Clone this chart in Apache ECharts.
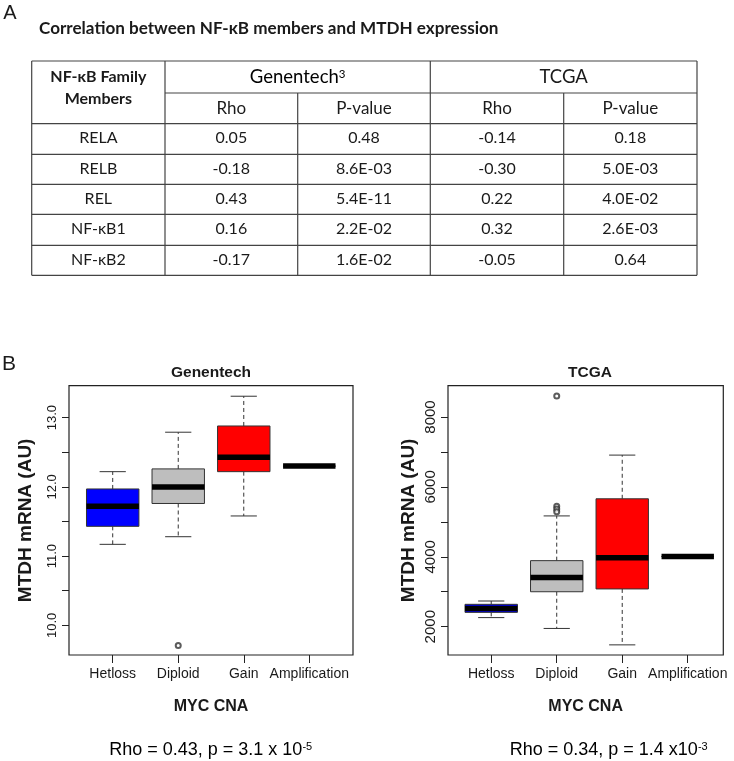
<!DOCTYPE html>
<html><head><meta charset="utf-8">
<script src="https://cdn.jsdelivr.net/npm/echarts@6/dist/echarts.min.js"></script>
<style>html,body{margin:0;padding:0;background:#fff}#c{width:734px;height:761px}</style>
</head><body><div id="c"></div>
<script>
// ---------------- data ----------------
const categories = ['Hetloss', 'Diploid', 'Gain', 'Amplification'];

const genMin    = [11.17, 11.28, 11.58, 12.30];
const genQ1     = [11.43, 11.76, 12.22, 12.30];
const genMedian = [11.72, 12.00, 12.43, 12.30];
const genQ3     = [11.97, 12.26, 12.88, 12.30];
const genMax    = [12.22, 12.79, 13.31, 12.30];
const genOutliers = [[2, 9.71]];

const tcgaMin    = [2260, 1950, 1480, 4010];
const tcgaQ1     = [2410, 3000, 3080, 4010];
const tcgaMedian = [2520, 3410, 3970, 4010];
const tcgaQ3     = [2640, 3890, 5660, 4010];
const tcgaMax    = [2735, 5170, 6910, 4010];
const tcgaOutliers = [[2, 8600], [2, 5450], [2, 5370], [2, 5290]];

const genYTicks  = [10, 10.5, 11, 11.5, 12, 12.5, 13];
const genYLabels = [10, 11, 12, 13];
const tcgaYTicks  = [2000, 3000, 4000, 5000, 6000, 7000, 8000];
const tcgaYLabels = [2000, 4000, 6000, 8000];
const xTickValues = [1, 2, 3, 4];

const tableTitle = 'Correlation between NF-κB members and MTDH expression';
const members = ['RELA', 'RELB', 'REL', 'NF-κB1', 'NF-κB2'];
const genRho  = ['0.05', '-0.18', '0.43', '0.16', '-0.17'];
const genP    = ['0.48', '8.6E-03', '5.4E-11', '2.2E-02', '1.6E-02'];
const tcgaRho = ['-0.14', '-0.30', '0.22', '0.32', '-0.05'];
const tcgaP   = ['0.18', '5.0E-03', '4.0E-02', '2.6E-03', '0.64'];

const genStatText  = ['Rho = 0.43, p = 3.1 x 10', '-5'];
const tcgaStatText = ['Rho = 0.34, p = 1.4 x10', '-3'];

// ---------------- styling helpers ----------------
const cv = document.createElement('canvas').getContext('2d');
function tw(t, f) { cv.font = f; return cv.measureText(t).width; }
const narrowOK = Math.abs(tw('Hetloss Amplification', '17px "Liberation Sans Narrow", monospace') -
                          tw('Hetloss Amplification', '17px monospace')) > 1;
const xLabFamily = narrowOK ? 'Liberation Sans Narrow' : 'Liberation Sans';
const xLabSize = narrowOK ? 17 : 14;
const SANS = 'Liberation Sans';
const TFONT = 'Lato';
const INK = '#1a1a1a';

const boxColors = ['#0000FF', '#BEBEBE', '#FF0000', '#000000'];
const BOX_W = 0.8;

function boxRender(params, api) {
  const x = api.value(0);
  const vals = [1, 2, 3, 4, 5].map(d => api.coord([x, api.value(d)])[1]);
  const [yMin, yQ1, yMed, yQ3, yMax] = vals;
  const cx = api.coord([x, api.value(3)])[0];
  const half = api.size([BOX_W, 0])[0] / 2;
  const cap = half / 2;
  const dash = { stroke: '#333', lineWidth: 1, lineDash: [4, 3] };
  const solid = { stroke: '#333', lineWidth: 1 };
  return {
    type: 'group',
    children: [
      { type: 'line', shape: { x1: cx, y1: yQ3, x2: cx, y2: yMax }, style: dash },
      { type: 'line', shape: { x1: cx, y1: yQ1, x2: cx, y2: yMin }, style: dash },
      { type: 'line', shape: { x1: cx - cap, y1: yMax, x2: cx + cap, y2: yMax }, style: solid },
      { type: 'line', shape: { x1: cx - cap, y1: yMin, x2: cx + cap, y2: yMin }, style: solid },
      { type: 'rect', shape: { x: cx - half, y: yQ3, width: 2 * half, height: yQ1 - yQ3 },
        style: { fill: boxColors[params.dataIndex], stroke: '#333', lineWidth: 1 } },
      { type: 'line', shape: { x1: cx - half, y1: yMed, x2: cx + half, y2: yMed },
        style: { stroke: '#000', lineWidth: 5.5 } }
    ]
  };
}

function boxData(mn, q1, md, q3, mx) {
  return categories.map((c, i) => [i + 1, mn[i], q1[i], md[i], q3[i], mx[i]]);
}

function xAxisFor(gi, min, max) {
  return {
    gridIndex: gi, type: 'value', min: min, max: max,
    axisLine: { show: false, onZero: false }, splitLine: { show: false },
    axisTick: { show: true, customValues: xTickValues, length: 8, lineStyle: { color: '#222', width: 1 } },
    axisLabel: { customValues: xTickValues, formatter: v => categories[Math.round(v) - 1],
      margin: 12, fontFamily: xLabFamily, fontSize: xLabSize, color: INK },
    name: 'MYC CNA', nameLocation: 'middle', nameGap: 44,
    nameTextStyle: { fontFamily: SANS, fontWeight: 'bold', fontSize: 16, color: INK }
  };
}
function yAxisFor(gi, min, max, ticks, labels, fmt, fs, gap) {
  return {
    gridIndex: gi, type: 'value', min: min, max: max,
    axisLine: { show: false, onZero: false }, splitLine: { show: false },
    axisTick: { show: true, customValues: ticks, length: 7, lineStyle: { color: '#222', width: 1 } },
    axisLabel: { customValues: labels, formatter: fmt, rotate: 90, margin: 10,
      fontFamily: SANS, fontSize: fs, color: INK },
    name: 'MTDH mRNA (AU)', nameLocation: 'middle', nameGap: gap,
    nameTextStyle: { fontFamily: SANS, fontWeight: 'bold', fontSize: 19, color: INK }
  };
}

// ---------------- table (graphic) ----------------
const colX = [31.7, 165, 297.7, 430.3, 563.7, 697];
const rowY = [61, 93, 123.7, 154.3, 184.3, 214.3, 245.3, 275.3];
const lineStyle = { stroke: '#444', lineWidth: 1.2 };
const gfx = [];
function hline(x1, x2, y) { gfx.push({ type: 'line', shape: { x1, y1: y, x2, y2: y }, style: lineStyle }); }
function vline(x, y1, y2) { gfx.push({ type: 'line', shape: { x1: x, y1, x2: x, y2 }, style: lineStyle }); }
function txt(x, y, text, size, weight, family, align, extra) {
  gfx.push(Object.assign({ type: 'text', x, y, z: 10,
    style: { text, fill: INK, fontSize: size, fontWeight: weight || 'normal', fontFamily: family || TFONT,
      textAlign: align || 'center', textVerticalAlign: 'middle' } }, extra || {}));
}
hline(colX[0], colX[5], rowY[0]);
hline(colX[1], colX[5], rowY[1]);
for (let r = 2; r < rowY.length; r++) hline(colX[0], colX[5], rowY[r]);
vline(colX[0], rowY[0], rowY[7]);
vline(colX[1], rowY[0], rowY[7]);
vline(colX[2], rowY[1], rowY[7]);
vline(colX[3], rowY[0], rowY[7]);
vline(colX[4], rowY[1], rowY[7]);
vline(colX[5], rowY[0], rowY[7]);

const colC = [0, 1, 2, 3, 4].map(i => (colX[i] + colX[i + 1]) / 2);
txt(10, 13.7, 'A', 20, 'normal', SANS);
txt(39, 28.3, tableTitle, 17.1, 'bold', TFONT, 'left');
txt(colC[0], 77.3, 'NF-κB Family', 16, 'bold');
txt(colC[0], 99, 'Members', 16, 'bold');
gfx.push({ type: 'text', x: (colX[1] + colX[3]) / 2, y: 77.5, z: 10,
  style: { text: '{a|Genentech}{s|3}', textAlign: 'center', textVerticalAlign: 'middle',
    rich: { a: { fontFamily: TFONT, fontSize: 18.5, lineHeight: 19, color: INK },
            s: { fontFamily: TFONT, fontSize: 11.5, lineHeight: 15, verticalAlign: 'top', color: INK } } } });
txt((colX[3] + colX[5]) / 2, 77.5, 'TCGA', 18.5);
['Rho', 'P-value', 'Rho', 'P-value'].forEach((h, i) => txt(colC[i + 1], 109, h, 17));
const cols = [members, genRho, genP, tcgaRho, tcgaP];
members.forEach((m, r) => {
  const yc = (rowY[r + 2] + rowY[r + 3]) / 2 - 0.7;
  cols.forEach((col, c) => txt(colC[c], yc, col[r], 16));
});

// panel B extra texts
txt(9, 364, 'B', 21, 'normal', SANS);
txt(211, 372.3, 'Genentech', 15.5, 'bold', SANS);
txt(590, 372.3, 'TCGA', 15.5, 'bold', SANS);
function statText(x, y, parts) {
  gfx.push({ type: 'text', x, y, z: 10,
    style: { text: '{a|' + parts[0] + '}{s|' + parts[1] + '}', textAlign: 'center', textVerticalAlign: 'middle',
      rich: { a: { fontFamily: SANS, fontSize: 18, lineHeight: 18, color: INK },
              s: { fontFamily: SANS, fontSize: 11, lineHeight: 10, verticalAlign: 'top', color: INK } } } });
}
statText(210.7, 750, genStatText);
statText(608.7, 750, tcgaStatText);

// ---------------- chart ----------------
const chart = echarts.init(document.getElementById('c'), null, { renderer: 'canvas' });
chart.setOption({
  animation: false,
  backgroundColor: '#fff',
  grid: [
    { left: 69, top: 385.7, width: 284, height: 269.3, show: true, borderColor: '#222', borderWidth: 1.2, backgroundColor: 'transparent' },
    { left: 448, top: 385.7, width: 275.3, height: 269.3, show: true, borderColor: '#222', borderWidth: 1.2, backgroundColor: 'transparent' }
  ],
  xAxis: [xAxisFor(0, 0.333, 4.667), xAxisFor(1, 0.34, 4.543)],
  yAxis: [
    yAxisFor(0, 9.571, 13.462, genYTicks, genYLabels, v => v.toFixed(1), 13, 34),
    yAxisFor(1, 1190, 8896, tcgaYTicks, tcgaYLabels, v => String(v), 15, 30)
  ],
  series: [
    { type: 'custom', xAxisIndex: 0, yAxisIndex: 0, renderItem: boxRender,
      encode: { x: 0, y: [1, 2, 3, 4, 5] },
      data: boxData(genMin, genQ1, genMedian, genQ3, genMax) },
    { type: 'scatter', xAxisIndex: 0, yAxisIndex: 0, symbol: 'emptyCircle', symbolSize: 5,
      itemStyle: { color: '#333', borderWidth: 1 }, data: genOutliers },
    { type: 'custom', xAxisIndex: 1, yAxisIndex: 1, renderItem: boxRender,
      encode: { x: 0, y: [1, 2, 3, 4, 5] },
      data: boxData(tcgaMin, tcgaQ1, tcgaMedian, tcgaQ3, tcgaMax) },
    { type: 'scatter', xAxisIndex: 1, yAxisIndex: 1, symbol: 'emptyCircle', symbolSize: 5,
      itemStyle: { color: '#333', borderWidth: 1 }, data: tcgaOutliers }
  ],
  graphic: gfx
});
</script>
</body></html>
